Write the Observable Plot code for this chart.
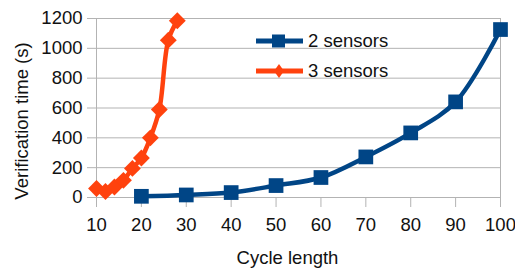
<!DOCTYPE html>
<html>
<head>
<meta charset="utf-8">
<script src="https://cdn.jsdelivr.net/npm/d3@7"></script>
<script src="https://cdn.jsdelivr.net/npm/@observablehq/plot@0.6"></script>
<style>
  html, body { margin: 0; padding: 0; background: #fff; }
  #wrap { position: relative; width: 515px; height: 269px; font-family: "Liberation Sans", Arial, sans-serif; }
  .leg { position: absolute; left: 255px; display: flex; align-items: center; font-size: 18.5px; color: #111; }
  .leg svg { margin-right: 4px; }
</style>
</head>
<body>
<div id="wrap"></div>
<script>
const cycle2 = [20, 30, 40, 50, 60, 70, 80, 90, 100];
const time2  = [8, 17, 33, 80, 134, 272, 433, 641, 1126];
const cycle3 = [10, 12, 14, 16, 18, 20, 22, 24, 26, 28];
const time3  = [60, 40, 70, 115, 195, 265, 400, 590, 1055, 1185];
const xTicks = [10, 20, 30, 40, 50, 60, 70, 80, 90, 100];
const yTicks = [0, 200, 400, 600, 800, 1000, 1200];
const seriesNames = ["2 sensors", "3 sensors"];
const seriesColors = ["#004586", "#ff420e"];

const d2 = cycle2.map((c, i) => ({x: c, y: time2[i]}));
const d3s = cycle3.map((c, i) => ({x: c, y: time3[i]}));

const chart = Plot.plot({
  width: 515,
  height: 269,
  marginLeft: 96,
  marginRight: 15,
  marginTop: 18,
  marginBottom: 72,
  style: {fontFamily: "Liberation Sans, Arial, sans-serif", fontSize: "18.5px", color: "#111", background: "#fff", overflow: "visible"},
  x: {domain: [10, 100], label: null},
  y: {domain: [0, 1200], label: null},
  marks: [
    Plot.ruleY(yTicks, {stroke: "#b3b3b3", strokeWidth: 1}),
    Plot.ruleX([10, 100], {stroke: "#b3b3b3", strokeWidth: 1}),
    Plot.axisY({ticks: yTicks, tickFormat: d => String(d), tickSize: 9, tickPadding: 5, stroke: "#b3b3b3", fill: "#111", label: null}),
    Plot.axisX({ticks: xTicks, tickFormat: d => String(d), tickSize: 10, tickPadding: 10, stroke: "#b3b3b3", fill: "#111", label: null}),
    Plot.text(["Cycle length"], {frameAnchor: "bottom", textAnchor: "middle", lineAnchor: "middle", dy: 61, dx: -11, fill: "#111"}),
    Plot.text(["Verification time (s)"], {frameAnchor: "left", textAnchor: "middle", lineAnchor: "middle", rotate: -90, dx: -74, dy: 13, fill: "#111"}),
    Plot.line(d2, {x: "x", y: "y", stroke: seriesColors[0], strokeWidth: 4.5, curve: "catmull-rom"}),
    Plot.dot(d2, {x: "x", y: "y", symbol: "square", r: 8.3, fill: seriesColors[0], stroke: "none"}),
    Plot.line(d3s, {x: "x", y: "y", stroke: seriesColors[1], strokeWidth: 4.5, curve: "catmull-rom"}),
    Plot.dot(d3s, {x: "x", y: "y", symbol: "diamond2", r: 7.6, fill: seriesColors[1], stroke: "none"})
  ]
});
const wrap = document.getElementById("wrap");
wrap.appendChild(chart);

// legend
const legTops = [41, 71];
seriesNames.forEach((name, i) => {
  const div = document.createElement("div");
  div.className = "leg";
  div.style.top = (legTops[i] - 11) + "px";
  const marker = i === 0
    ? `<rect x="17" y="4.5" width="13" height="13" fill="${seriesColors[0]}"/>`
    : `<path d="M24 4 L29 11 L24 18 L19 11 Z" fill="${seriesColors[1]}"/>`;
  div.innerHTML = `<svg width="49" height="22"><line x1="1" x2="48" y1="11" y2="11" stroke="${seriesColors[i]}" stroke-width="5"/>${marker}</svg><span>${name}</span>`;
  wrap.appendChild(div);
});
</script>
</body>
</html>
